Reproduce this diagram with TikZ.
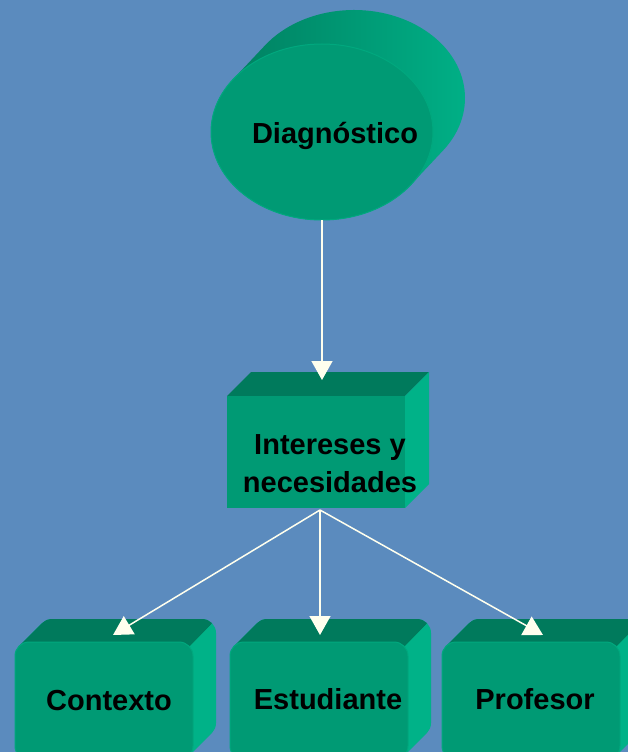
\documentclass[tikz,border=0pt]{standalone}
\usepackage{fontspec}
\setmainfont{Liberation Sans}
\usetikzlibrary{arrows.meta}
\definecolor{bg}{RGB}{91,139,190}
\definecolor{gfront}{RGB}{0,154,116}
\definecolor{gtop}{RGB}{0,122,92}
\definecolor{gside}{RGB}{0,178,136}
\definecolor{grim}{RGB}{0,168,126}
\definecolor{arr}{RGB}{255,255,238}
\tikzset{
  lbl/.style={font=\fontsize{29}{38}\selectfont\bfseries, text=black, align=center, inner sep=0pt},
  conn/.style={draw=arr, line width=1.5pt, -{Triangle[width=21pt,length=19pt]}},
  frontface/.style={fill=gfront},
}
\newcommand\greenbox[3]{%
  \foreach \i in {23,22,...,1} {\fill[gside,rounded corners=14pt] ({#1+\i},{-642+\i}) rectangle ({#1+178+\i},{-760+\i});}
  \begin{scope}
    \clip ({#1+78},-742) -- ({#1+278},-542) -- ({#1-100},-542) -- ({#1-100},-742) -- cycle;
    \foreach \i in {23,22,...,1} {\fill[gtop,rounded corners=14pt] ({#1+\i},{-642+\i}) rectangle ({#1+178+\i},{-760+\i});}
  \end{scope}
  \fill[frontface,rounded corners=14pt] (#1,-642) rectangle ({#1+178},-760);
  \draw[grim,line width=1pt,rounded corners=14pt] (#1,-642) rectangle ({#1+178},-760);
}
\begin{document}
\begin{tikzpicture}[x=1pt,y=1pt]
\useasboundingbox (0,0) rectangle (628,-752);
\fill[bg] (0,0) rectangle (628,-752);
% cylinder
\shade[left color=gtop, right color=gside] (233,-79.4) -- (265,-45.4)
  arc[start angle=143.3, end angle=-36.7, x radius=111, y radius=88]
  -- (411,-184.6)
  arc[start angle=-36.7, end angle=-216.7, x radius=111, y radius=88] -- cycle;
\fill[frontface] (322,-132) ellipse[x radius=111, y radius=88];
\draw[grim,line width=1pt] (322,-132) ellipse[x radius=111, y radius=88];
\node[lbl,anchor=base] (diag) at (335,-143) {Diagnóstico};
% middle box
\fill[gtop] (227,-396) -- (251,-372) -- (429,-372) -- (405,-396) -- cycle;
\fill[gside] (405,-396) -- (429,-372) -- (429,-484) -- (405,-508) -- cycle;
\fill[frontface] (227,-396) rectangle (405,-508);
\node[lbl] (inter) at (330,-463.6) {Intereses y\\necesidades};
% bottom boxes
\greenbox{15}{ctx}{Contexto}
\greenbox{230}{est}{Estudiante}
\greenbox{442}{prof}{Profesor}
\node[lbl,anchor=base] (ctx) at (109,-710) {Contexto};
\node[lbl,anchor=base] (est) at (328,-709) {Estudiante};
\node[lbl,anchor=base] (prof) at (535,-709) {Profesor};
% connectors
\coordinate (ds) at (322,-220);
\coordinate (in) at (322,-380);
\coordinate (is) at (320,-510);
\coordinate (cn) at (113,-635);
\coordinate (en) at (320,-635);
\coordinate (pn) at (543,-635);
\draw[conn] (ds) -- (in);
\draw[conn] (is) -- (cn);
\draw[conn] (is) -- (en);
\draw[conn] (is) -- (pn);
\end{tikzpicture}
\end{document}
